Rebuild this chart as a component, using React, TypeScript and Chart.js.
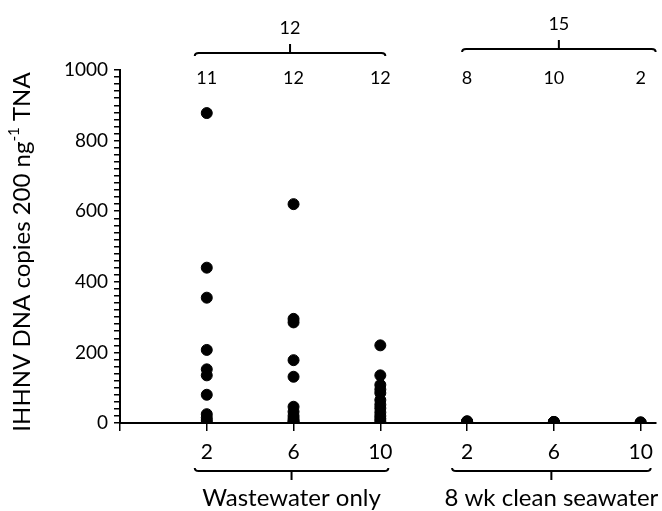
import React, { useEffect, useRef } from "react";
import { Chart, registerables } from "chart.js";

Chart.register(...registerables);

const categories = ["2", "6", "10", "2", "6", "10"];
const groupNames = ["Wastewater only", "8 wk clean seawater"];
const groupTotals = ["12", "15"];
const columnCounts = ["11", "12", "12", "8", "10", "2"];
const yTickLabels = [0, 200, 400, 600, 800, 1000];

const wk2Wastewater = [878, 440, 355, 207, 152, 135, 80, 25, 15, 8, 2];
const wk6Wastewater = [620, 295, 285, 178, 131, 46, 32, 20, 12, 6, 3, 0];
const wk10Wastewater = [220, 135, 108, 95, 85, 65, 52, 42, 30, 20, 12, 5];
const wk2Seawater = [5, 4, 3, 3, 2, 2, 1, 1];
const wk6Seawater = [3, 3, 2, 2, 2, 1, 1, 1, 0, 0];
const wk10Seawater = [2, 1];

const columns = [wk2Wastewater, wk6Wastewater, wk10Wastewater, wk2Seawater, wk6Seawater, wk10Seawater];

const FONT = "Lato, 'Open Sans', sans-serif";

const annotations = {
  id: "annotations",
  afterDraw(chart: any) {
    const ctx = chart.ctx;
    const xs = chart.scales.x;
    const px = (i: number) => xs.getPixelForValue(i);
    ctx.save();
    ctx.fillStyle = "#000";
    ctx.strokeStyle = "#000";
    ctx.lineWidth = 2;

    // y title with superscript
    ctx.save();
    ctx.translate(22, 252);
    ctx.rotate(-Math.PI / 2);
    ctx.textBaseline = "middle";
    const main = "IHHNV DNA copies 200 ng";
    const sup = "-1";
    const tail = " TNA";
    ctx.font = `24px ${FONT}`;
    const wMain = ctx.measureText(main).width;
    const wTail = ctx.measureText(tail).width;
    ctx.font = `15px ${FONT}`;
    const wSup = ctx.measureText(sup).width;
    const total = wMain + wSup + wTail;
    let cx = -total / 2;
    ctx.textAlign = "left";
    ctx.font = `24px ${FONT}`;
    ctx.fillText(main, cx, 0);
    cx += wMain;
    ctx.font = `15px ${FONT}`;
    ctx.fillText(sup, cx, -8);
    cx += wSup;
    ctx.font = `24px ${FONT}`;
    ctx.fillText(tail, cx, 0);
    ctx.restore();

    // top counts
    ctx.textAlign = "center";
    ctx.textBaseline = "middle";
    ctx.font = `18px ${FONT}`;
    columnCounts.forEach((c, i) => ctx.fillText(c, px(i + 1), 78));

    const topBracket = (x1: number, x2: number, y: number, label: string) => {
      const mid = (x1 + x2) / 2;
      ctx.beginPath();
      ctx.moveTo(x1, y + 3);
      ctx.quadraticCurveTo(x1, y, x1 + 4, y);
      ctx.lineTo(x2 - 4, y);
      ctx.quadraticCurveTo(x2, y, x2, y + 3);
      ctx.moveTo(mid, y);
      ctx.lineTo(mid, y - 9);
      ctx.stroke();
      ctx.font = `18px ${FONT}`;
      ctx.fillText(label, mid, y - 25);
    };
    topBracket(px(1) - 12, px(3) + 5, 53, groupTotals[0]);
    topBracket(px(4) - 5, px(6) + 15, 49, groupTotals[1]);

    const bottomBracket = (x1: number, x2: number, y: number, label: string) => {
      const mid = (x1 + x2) / 2;
      ctx.beginPath();
      ctx.moveTo(x1, y - 3);
      ctx.quadraticCurveTo(x1, y, x1 + 4, y);
      ctx.lineTo(x2 - 4, y);
      ctx.quadraticCurveTo(x2, y, x2, y - 3);
      ctx.moveTo(mid, y);
      ctx.lineTo(mid, y + 9);
      ctx.stroke();
      ctx.font = `24px ${FONT}`;
      ctx.fillText(label, mid, 498);
    };
    bottomBracket(px(1) - 12, px(3) + 8, 471, groupNames[0]);
    bottomBracket(px(4) - 15, px(6) + 10, 471, groupNames[1]);
    ctx.restore();
  },
};

export default function App() {
  const ref = useRef<HTMLCanvasElement>(null);
  useEffect(() => {
    if (!ref.current) return;
    const points: { x: number; y: number }[] = [];
    columns.forEach((vals, i) => vals.forEach((v) => points.push({ x: i + 1, y: v })));
    const chart = new Chart(ref.current, {
      type: "scatter",
      data: {
        datasets: [
          {
            data: points,
            backgroundColor: "#000",
            borderColor: "#000",
            pointRadius: 5.5,
            pointHoverRadius: 5.5,
          },
        ],
      },
      options: {
        responsive: false,
        animation: false,
        layout: { padding: { top: 70, right: 2, left: 0, bottom: 0 } },
        plugins: { legend: { display: false }, tooltip: { enabled: false } },
        scales: {
          x: {
            type: "linear",
            min: 0,
            max: 6.17,
            afterBuildTicks: (scale: any) => {
              scale.ticks = [0, ...categories.map((_, i) => i + 1)].map((v) => ({ value: v }));
            },
            afterFit: (scale: any) => {
              scale.height = 88;
            },
            grid: { drawOnChartArea: false, drawTicks: true, tickLength: 8, color: "#000", lineWidth: 1.5 },
            border: { color: "#000", width: 2 },
            ticks: {
              autoSkip: false,
              maxRotation: 0,
              padding: 9,
              color: "#000",
              font: { family: FONT, size: 21 },
              callback: (v: any) => (v >= 1 ? categories[v - 1] : ""),
            },
          },
          y: {
            min: 0,
            max: 1000,
            afterFit: (scale: any) => {
              scale.width = 120;
            },
            grid: { drawOnChartArea: false, drawTicks: true, tickLength: 6, color: "#000", lineWidth: 1.5 },
            border: { color: "#000", width: 2 },
            ticks: {
              stepSize: 20,
              autoSkip: false,
              padding: 6,
              color: "#000",
              font: { family: FONT, size: 19 },
              callback: (v: any) => (yTickLabels.includes(v) ? String(v) : ""),
            },
          },
        },
      },
      plugins: [annotations],
    });
    return () => chart.destroy();
  }, []);
  return (
    <div style={{ position: "absolute", left: 0, top: 0, width: 662, height: 511, background: "#fff" }}>
      <canvas ref={ref} width={662} height={511} />
    </div>
  );
}
